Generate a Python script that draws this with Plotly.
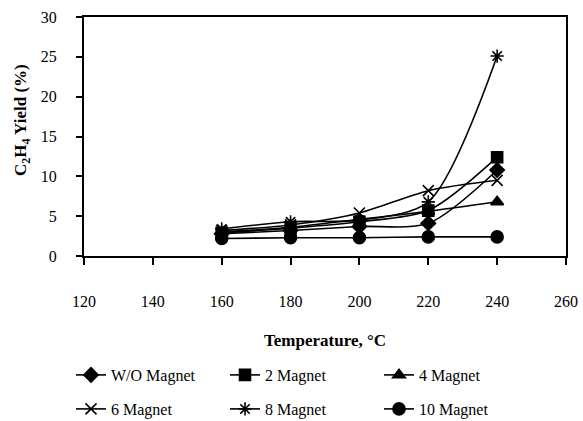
import plotly.graph_objects as go

temps = [160, 180, 200, 220, 240]
series_names = ["W/O Magnet", "2 Magnet", "4 Magnet", "6 Magnet", "8 Magnet", "10 Magnet"]
wo_magnet = [2.8, 3.2, 3.7, 4.1, 10.8]
magnet_2 = [2.9, 3.5, 4.3, 5.7, 12.4]
magnet_4 = [3.0, 3.6, 4.6, 5.6, 6.8]
magnet_6 = [3.2, 3.9, 5.4, 8.2, 9.5]
magnet_8 = [3.4, 4.3, 4.5, 6.8, 25.1]
magnet_10 = [2.2, 2.3, 2.3, 2.4, 2.4]
x_ticks = [120, 140, 160, 180, 200, 220, 240, 260]
y_ticks = [0, 5, 10, 15, 20, 25, 30]

values = [wo_magnet, magnet_2, magnet_4, magnet_6, magnet_8, magnet_10]
symbols = ["diamond", "square", "triangle-up", "x-thin-open", "asterisk-open", "circle"]
sizes = [11, 11, 11, 11, 11, 12]
legends = ["legend", "legend", "legend", "legend2", "legend2", "legend2"]

FONT = "Liberation Serif"

fig = go.Figure()
for name, ys, sym, sz, lg in zip(series_names, values, symbols, sizes, legends):
    fig.add_trace(go.Scatter(
        x=temps, y=ys, name=name, mode="lines+markers",
        line=dict(color="black", width=1.6, shape="spline", smoothing=0.8),
        marker=dict(symbol=sym, size=sz, color="black",
                    line=dict(color="black", width=1.6)),
        legend=lg,
    ))

W, H = 583, 421
L, R, T, B = 84, 17, 17, 165
pw, ph = W - L - R, H - T - B

def px_x(p):
    return (p - L) / pw

def px_y(p):
    return (H - B - p) / ph

legend_common = dict(
    orientation="h", xanchor="left", yanchor="middle",
    xref="container", yref="container",
    font=dict(family=FONT, size=16, color="black"),
    entrywidth=109, entrywidthmode="pixels",
    bgcolor="rgba(0,0,0,0)", itemwidth=30, tracegroupgap=0,
)

fig.update_layout(
    width=W, height=H,
    margin=dict(l=L, r=R, t=T, b=B, autoexpand=False),
    paper_bgcolor="white", plot_bgcolor="white",
    font=dict(family=FONT, size=16, color="black"),
    showlegend=True,
    legend=dict(x=71 / W, y=(H - 375) / H, **legend_common),
    legend2=dict(x=71 / W, y=(H - 409) / H, **legend_common),
    xaxis=dict(
        range=[120, 260], tickvals=x_ticks, ticks="outside", ticklen=7,
        tickwidth=1.5, tickcolor="black", showline=True, linecolor="black",
        linewidth=2, mirror=True, showgrid=False, zeroline=False,
        ticklabelstandoff=23, tickfont=dict(family=FONT, size=16),
    ),
    yaxis=dict(
        range=[0, 30], tickvals=y_ticks, ticks="outside", ticklen=6,
        tickwidth=1.5, tickcolor="black", showline=True, linecolor="black",
        linewidth=2, mirror=True, showgrid=False, zeroline=False,
        ticklabelstandoff=16, tickfont=dict(family=FONT, size=16),
    ),
    annotations=[
        dict(text="<b>C<sub>2</sub>H<sub>4</sub> Yield (%)</b>", textangle=-90,
             xref="paper", yref="paper", x=px_x(22), y=px_y(120),
             xanchor="center", yanchor="middle", showarrow=False,
             font=dict(family=FONT, size=17, color="black")),
        dict(text="<b>Temperature, °C</b>",
             xref="paper", yref="paper", x=px_x(325), y=px_y(340),
             xanchor="center", yanchor="middle", showarrow=False,
             font=dict(family=FONT, size=17, color="black")),
    ],
)

fig.write_html("out.html", config={"displayModeBar": False},
               post_script="document.body.style.margin='0';")
